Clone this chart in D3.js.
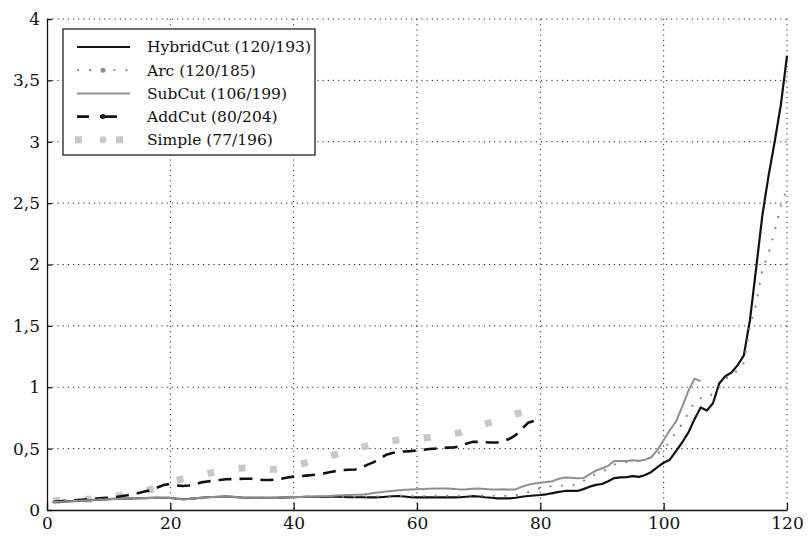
<!DOCTYPE html>
<html>
<head>
<meta charset="utf-8">
<script src="https://cdn.jsdelivr.net/npm/d3@7"></script>
<style>
  body { margin: 0; background: #fff; }
  svg text { font-family: "DejaVu Serif", "Liberation Serif", serif; }
</style>
</head>
<body>
<div id="graph"></div>
<script>
// series values (x = 1..n)
var hybridCut = [0.065,0.068,0.07,0.072,0.075,0.078,0.08,0.083,0.086,0.088,
  0.09,0.092,0.093,0.095,0.096,0.097,0.098,0.1,0.1,0.098,
  0.092,0.088,0.09,0.095,0.1,0.104,0.106,0.108,0.11,0.108,
  0.104,0.1,0.1,0.1,0.1,0.1,0.1,0.101,0.103,0.105,
  0.106,0.107,0.107,0.107,0.107,0.108,0.108,0.106,0.104,0.104,
  0.104,0.103,0.103,0.104,0.108,0.112,0.113,0.11,0.104,0.103,
  0.103,0.103,0.103,0.103,0.103,0.103,0.104,0.108,0.113,0.11,
  0.104,0.1,0.095,0.095,0.095,0.1,0.108,0.114,0.118,0.122,
  0.128,0.138,0.148,0.155,0.155,0.155,0.17,0.19,0.205,0.212,
  0.235,0.26,0.266,0.268,0.276,0.27,0.285,0.31,0.35,0.385,
  0.41,0.48,0.55,0.63,0.74,0.835,0.81,0.87,1.03,1.09,
  1.12,1.18,1.26,1.55,1.97,2.4,2.72,3.0,3.3,3.7]

var arc = [0.066,0.069,0.071,0.073,0.076,0.079,0.081,0.084,0.087,0.089,
  0.091,0.093,0.094,0.096,0.097,0.098,0.099,0.101,0.101,0.099,
  0.094,0.09,0.092,0.097,0.101,0.105,0.107,0.109,0.111,0.109,
  0.105,0.102,0.102,0.102,0.102,0.102,0.102,0.103,0.105,0.107,
  0.108,0.109,0.109,0.109,0.109,0.11,0.11,0.109,0.108,0.108,
  0.109,0.11,0.111,0.112,0.114,0.116,0.117,0.116,0.114,0.114,
  0.114,0.115,0.116,0.116,0.116,0.116,0.116,0.117,0.118,0.118,
  0.117,0.116,0.115,0.115,0.116,0.12,0.13,0.145,0.16,0.18,
  0.19,0.195,0.197,0.198,0.2,0.21,0.235,0.27,0.29,0.31,
  0.34,0.37,0.385,0.39,0.395,0.4,0.41,0.43,0.46,0.5,
  0.555,0.635,0.7,0.79,0.88,0.91,0.91,0.95,1.0,1.06,
  1.12,1.13,1.2,1.5,1.68,1.96,2.09,2.27,2.48,2.62]

var subCut = [0.065,0.068,0.07,0.072,0.075,0.078,0.08,0.083,0.086,0.088,
  0.09,0.092,0.093,0.095,0.096,0.097,0.098,0.1,0.1,0.098,
  0.092,0.088,0.09,0.095,0.1,0.104,0.106,0.108,0.11,0.108,
  0.104,0.1,0.1,0.1,0.1,0.1,0.1,0.101,0.103,0.105,
  0.106,0.107,0.108,0.109,0.111,0.114,0.118,0.12,0.122,0.124,
  0.125,0.13,0.138,0.145,0.15,0.155,0.16,0.165,0.168,0.17,
  0.172,0.173,0.175,0.176,0.176,0.172,0.168,0.17,0.174,0.176,
  0.172,0.168,0.168,0.17,0.168,0.168,0.19,0.205,0.215,0.222,
  0.228,0.235,0.255,0.265,0.262,0.258,0.26,0.29,0.32,0.34,
  0.36,0.4,0.4,0.4,0.405,0.402,0.41,0.43,0.49,0.57,
  0.65,0.72,0.84,0.97,1.07,1.05]

var addCut = [0.065,0.07,0.074,0.078,0.081,0.085,0.089,0.093,0.097,0.1,
  0.105,0.112,0.12,0.13,0.14,0.152,0.165,0.185,0.205,0.21,
  0.2,0.195,0.2,0.21,0.225,0.232,0.238,0.245,0.25,0.252,
  0.253,0.255,0.255,0.25,0.245,0.244,0.248,0.255,0.265,0.272,
  0.276,0.28,0.285,0.29,0.3,0.31,0.318,0.325,0.328,0.33,
  0.345,0.37,0.39,0.42,0.45,0.465,0.472,0.477,0.48,0.485,
  0.49,0.497,0.5,0.505,0.508,0.51,0.52,0.54,0.555,0.555,
  0.552,0.55,0.55,0.56,0.58,0.61,0.66,0.71,0.725,0.735]

var simple = [0.075,0.077,0.079,0.082,0.085,0.088,0.09,0.094,0.1,0.106,
  0.112,0.118,0.126,0.135,0.145,0.157,0.17,0.19,0.21,0.228,
  0.242,0.254,0.265,0.275,0.287,0.297,0.306,0.314,0.322,0.33,
  0.337,0.343,0.344,0.34,0.335,0.332,0.331,0.335,0.345,0.358,
  0.372,0.385,0.4,0.414,0.428,0.442,0.455,0.47,0.485,0.5,
  0.512,0.522,0.532,0.542,0.552,0.562,0.571,0.576,0.58,0.584,
  0.587,0.59,0.597,0.605,0.613,0.622,0.63,0.645,0.662,0.68,
  0.698,0.715,0.732,0.748,0.765,0.782,0.795]

var seriesNames = ["HybridCut (120/193)", "Arc (120/185)", "SubCut (106/199)", "AddCut (80/204)", "Simple (77/196)"]

// tick labels
var xTicks = [0, 20, 40, 60, 80, 100, 120]
var yTicks = [0, 0.5, 1, 1.5, 2, 2.5, 3, 3.5, 4]

// styles
var styles = [
  {color: "#111", width: 2.2, dash: null, cap: "butt"},
  {color: "#8a8a8a", width: 2.2, dash: "0.1,11.5", cap: "round"},
  {color: "#8f8f8f", width: 2, dash: null, cap: "butt"},
  {color: "#111", width: 2.6, dash: "13,8", cap: "butt"},
  {color: "#c8c8c8", width: 7, dash: "7,24.5", cap: "butt"}
]
// legend samples: start of the line and its dash pattern
var legendDash = [null, "0.1,12", null, "12,11,17,100", "7,34"]
var legendStart = [14, 15, 14, 14, 12]
var allSeries = [hybridCut, arc, subCut, addCut, simple]

var margin = {top: 19, left: 47},
  width = 740,
  height = 491

var svg = d3.select("#graph")
.append("svg")
  .attr("width", 810)
  .attr("height", 539)
.append("g")
  .attr("transform", "translate(" + margin.left + "," + margin.top + ")")

var x = d3.scaleLinear().domain([0, 120]).range([0, width])
var y = d3.scaleLinear().domain([0, 4]).range([height, 0])

//dotted grid
svg.selectAll(".gx")
.data(xTicks.slice(1))
.enter()
.append("line")
  .attr("x1", function(d){ return x(d) })
  .attr("x2", function(d){ return x(d) })
  .attr("y1", 0)
  .attr("y2", height)
  .attr("stroke", "#222")
  .attr("stroke-width", 1)
  .attr("stroke-dasharray", "1.2,4")

svg.selectAll(".gy")
.data(yTicks.slice(1))
.enter()
.append("line")
  .attr("x1", 0)
  .attr("x2", width)
  .attr("y1", function(d){ return y(d) })
  .attr("y2", function(d){ return y(d) })
  .attr("stroke", "#222")
  .attr("stroke-width", 1)
  .attr("stroke-dasharray", "1.2,4")

var fmt = function(d){ return String(d).replace(".", ",") }

//axes
var yAxis = svg.append("g")
  .call(d3.axisLeft(y).tickValues(yTicks).tickSizeInner(-5).tickSizeOuter(0).tickPadding(7).tickFormat(fmt))
var xAxis = svg.append("g")
  .attr("transform", "translate(0," + height + ")")
  .call(d3.axisBottom(x).tickValues(xTicks).tickSizeInner(-7).tickSizeOuter(0).tickPadding(7).tickFormat(fmt))

yAxis.attr("font-family", null)
xAxis.attr("font-family", null)
svg.selectAll(".tick text")
  .style("font-size", "17px")
  .attr("fill", "#111")
svg.selectAll(".domain, .tick line").attr("stroke", "#111").attr("stroke-width", 1.3)

//curves: the grey ones lie over the black one, as in the original
var line = d3.line()
  .x(function(d, i){ return x(i + 1) })
  .y(function(d){ return y(d) })

var order = [4, 3, 0, 2, 1]
order.forEach(function(k){
  var s = styles[k]
  svg.append("path")
    .datum(allSeries[k])
    .attr("d", line)
    .attr("fill", "none")
    .attr("stroke", s.color)
    .attr("stroke-width", s.width)
    .attr("stroke-linecap", s.cap)
    .attr("stroke-linejoin", "round")
    .attr("stroke-dasharray", s.dash)
})

//legend
var lg = svg.append("g").attr("transform", "translate(16,10)")
lg.append("rect")
  .attr("x", 0)
  .attr("y", 0)
  .attr("width", 252)
  .attr("height", 126)
  .attr("fill", "#fff")
  .attr("stroke", "#222")
  .attr("stroke-width", 1.3)

seriesNames.forEach(function(name, k){
  var s = styles[k]
  var cy = 18 + k * 23.2
  lg.append("line")
    .attr("x1", legendStart[k])
    .attr("x2", 67)
    .attr("y1", cy)
    .attr("y2", cy)
    .attr("stroke", s.color)
    .attr("stroke-width", s.width)
    .attr("stroke-linecap", s.cap)
    .attr("stroke-dasharray", legendDash[k])
  if (k == 1 || k == 3 || k == 4) {
    lg.append("circle")
      .attr("cx", 40)
      .attr("cy", cy)
      .attr("r", k == 4 ? 3.5 : 2.5)
      .attr("fill", k == 3 ? "#111" : s.color)
  }
  lg.append("text")
    .attr("x", 84)
    .attr("y", cy)
    .attr("dy", "0.35em")
    .style("font-size", "15.5px")
    .attr("fill", "#111")
    .text(name)
})
</script>
</body>
</html>
